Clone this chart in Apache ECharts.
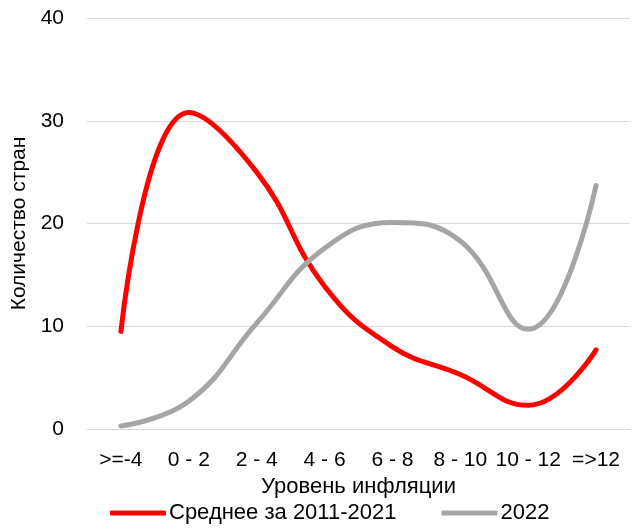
<!DOCTYPE html>
<html>
<head>
<meta charset="utf-8">
<script src="https://cdn.jsdelivr.net/npm/echarts@6/dist/echarts.min.js"></script>
<style>
html,body{margin:0;padding:0;background:#fff;}
#chart{width:638px;height:529px;}
</style>
</head>
<body>
<div id="chart"></div>
<script>
var categories = ['>=-4', '0 - 2', '2 - 4', '4 - 6', '6 - 8', '8 - 10', '10 - 12', '=>12'];
var avgValues = [9.5, 30.8, 25, 13.9, 8, 5.3, 2.3, 7.7];
var values2022 = [0.3, 2.7, 10.3, 17.6, 20.1, 18.3, 9.7, 23.7];
var yTicks = [0, 10, 20, 30, 40];

var fontName = "'Liberation Sans', Arial, sans-serif";
var myChart = echarts.init(document.getElementById('chart'));
var option = {
    animation: false,
    textStyle: { fontFamily: fontName },
    grid: { left: 87, right: 8, top: 18, bottom: 100, outerBoundsMode: 'none', containLabel: false },
    legend: {
        top: 497,
        left: 105,
        itemWidth: 56,
        itemHeight: 5,
        itemGap: 45,
        icon: 'roundRect',
        textStyle: { color: '#000', fontSize: 22, fontFamily: fontName, padding: [0, 0, 0, -2] },
        data: ['Среднее за 2011-2021', '2022']
    },
    xAxis: {
        type: 'category',
        data: categories,
        boundaryGap: true,
        name: 'Уровень инфляции',
        nameLocation: 'middle',
        nameGap: 41,
        nameTextStyle: { color: '#000', fontSize: 22, fontFamily: fontName },
        axisLine: { lineStyle: { color: '#d9d9d9' } },
        axisTick: { show: false },
        axisLabel: { color: '#000', fontSize: 21, margin: 21, interval: 0, fontFamily: fontName }
    },
    yAxis: {
        type: 'value',
        min: yTicks[0],
        max: yTicks[yTicks.length - 1],
        interval: 10,
        name: 'Количество стран',
        nameLocation: 'middle',
        nameGap: 51,
        nameTextStyle: { color: '#000', fontSize: 21, fontFamily: fontName },
        axisLine: { show: false },
        axisTick: { show: false },
        axisLabel: { color: '#000', fontSize: 21, margin: 23, fontFamily: fontName },
        splitLine: { lineStyle: { color: '#d9d9d9', width: 1 } }
    },
    series: [
        {
            name: 'Среднее за 2011-2021',
            type: 'line',
            smooth: 0.45,
            showSymbol: false,
            data: avgValues,
            itemStyle: { color: '#ff0000' },
            lineStyle: { color: '#ff0000', width: 5, cap: 'round' }
        },
        {
            name: '2022',
            type: 'line',
            smooth: 0.45,
            showSymbol: false,
            data: values2022,
            itemStyle: { color: '#a5a5a5' },
            lineStyle: { color: '#a5a5a5', width: 5, cap: 'round' }
        }
    ]
};
myChart.setOption(option);
window.addEventListener('resize', function () {
    myChart.resize();
});
</script>
</body>
</html>
